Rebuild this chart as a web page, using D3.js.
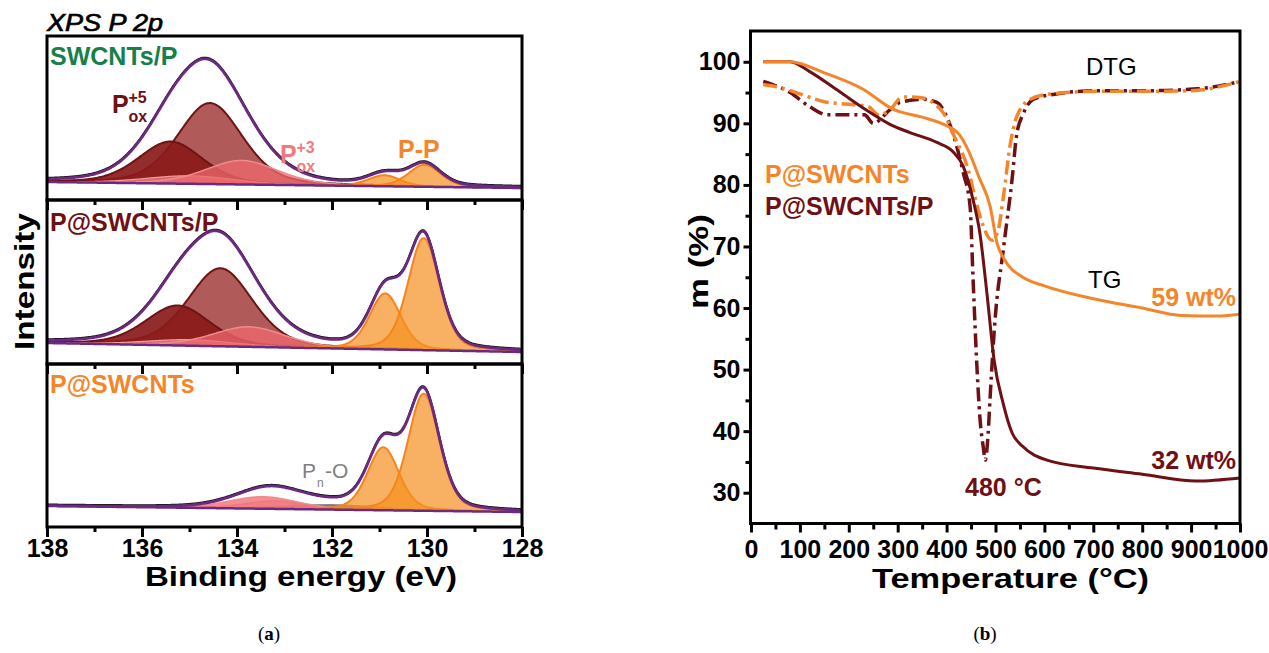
<!DOCTYPE html>
<html><head><meta charset="utf-8">
<script src="https://cdn.jsdelivr.net/npm/d3@7"></script>
<style>
body{margin:0;background:#fff}
svg{display:block}
text{font-family:"Liberation Sans",Arial,sans-serif}
</style>
</head><body>
<svg id="c" width="1269" height="653"></svg>
<script>
// ===================== DATA =====================
// (a) XPS P 2p — panels (top to bottom)
const xpsPanels = ["SWCNTs/P", "P@SWCNTs/P", "P@SWCNTs"];
const xpsPanelColors = ["#17804a", "#6e1014", "#f5852a"];
const xpsTicks = [138, 136, 134, 132, 130, 128];
const xpsMinorTicks = [137, 135, 133, 131, 129];
// background (baseline) intensity at 138 eV and at 128 eV, per panel
const baseLeft = [18, 21, 21];
const baseRight = [12, 12, 15];
// fitted components per panel: [centre (eV), height (a.u.), FWHM (eV)]
const compPox5a = [[134.57, 81, 1.6], [134.35, 78, 1.6], null];
const compPox5b = [[135.40, 42, 1.6], [135.25, 40, 1.6], null];
const compPox3a = [[133.90, 24, 1.8], [133.75, 20, 1.8], [133.45, 12, 1.7]];
const compPox3b = [[135.00, 8, 2.2], [135.00, 6, 2.2], [133.20, 8, 1.5]];
const compPnO   = [null, null, [132.0, 5, 2.4]];
const compPP32  = [[130.05, 22, 0.8], [130.07, 112, 0.78], [130.07, 117, 0.78]];
const compPP12  = [[130.90, 11, 0.8], [130.88, 56, 0.78], [130.92, 63, 0.78]];

// (b) TG / DTG
const tempTicks = [0,100,200,300,400,500,600,700,800,900,1000];
const massTicks = [30,40,50,60,70,80,90,100];
// TG P@SWCNTs (orange)
const tgOrangeT = [25,80,150,230,290,350,400,425,445,466,489,503,519,556,600,700,800,880,950,1000];
const tgOrangeM = [100,100,98.2,95.5,92.3,91.0,89.6,88.3,85.5,81.3,76.5,70.6,67.8,65.0,63.6,61.5,60.0,58.8,58.7,59.0];
// TG P@SWCNTs/P (dark red)
const tgRedT = [25,80,120,180,235,285,325,380,413,434,454,468,483,497,516,534,556,605,700,800,910,1000];
const tgRedM = [100,100,98.4,95.2,92.2,89.8,88.5,86.9,85.4,83.0,77.6,72.2,62.0,51.6,44.4,39.7,37.5,35.3,34.0,33.0,31.9,32.4];
// DTG P@SWCNTs (orange, scaled)
const dtgOrangeT = [25,60,100,150,200,240,262,285,310,345,375,395,415,444,458,474,493,505,516,530,543,571,605,707,809,900,1000];
const dtgOrangeM = [96.3,95.8,94.8,93.5,93.1,92.7,91.3,92.3,94.3,94.2,93.2,91.5,88.0,82.5,78.0,73.5,71.0,72.5,78.0,86.5,91.0,93.9,94.7,95.2,95.2,95.3,96.8];
// DTG P@SWCNTs/P (dark red, scaled)
const dtgRedT = [25,80,120,155,195,232,250,284,305,350,380,400,421,434,448,454,462,468,475,479,485,489,499,516,534,543,557,577,618,707,809,912,1000];
const dtgRedM = [96.8,95.0,92.7,91.4,91.4,91.4,90.0,92.2,93.4,93.9,93.4,91.1,86.2,82.0,76.5,65.0,50.5,42.3,37.4,35.3,39.7,45.5,58.0,69.5,81.0,88.0,91.6,93.9,94.7,95.3,95.3,95.6,96.8];

// ===================== DRAW =====================
const svg = d3.select("#c");
const ORANGE = "#f5852a", DRED = "#6e1014", PURPLE = "#6b2a80";

// ---------- (a) XPS ----------
const xX = d3.scaleLinear().domain([138, 128]).range([47, 522]);
const pTop = [36, 200, 364], pBot = [200, 364, 527];
const beGrid = d3.range(128, 138.0001, 0.02);
function gl(x, p) { const d = x - p[0], u = 4 * d * d / (p[2] * p[2]); return p[1] * (0.7 * Math.exp(-Math.LN2 * u) + 0.3 / (1 + u)); }

xpsPanels.forEach((name, i) => {
  const yS = d3.scaleLinear().domain([0, 160]).range([pBot[i], pBot[i] - 160]);
  const base = be => baseRight[i] + (baseLeft[i] - baseRight[i]) * (be - 128) / 10;
  const g = svg.append("g");
  const comps = [
    {p: compPox5a[i], fill: "#b05a5a", op: 1, stroke: "#6e1414", sw: 2},
    {p: compPox5b[i], fill: "#8a1a1a", op: 0.92, stroke: "#6e1414", sw: 2},
    {p: compPnO[i], fill: "#7f7f7f", op: 1, stroke: "#7f7f7f", sw: 1},
    {p: compPox3b[i], fill: i === 2 ? "#f5a3aa" : "#f28a8c", op: 0.7, stroke: "#f29a9c", sw: 1.2},
    {p: compPox3a[i], fill: "#ef6a6e", op: 0.75, stroke: "#f28a8c", sw: 1.5},
    {p: compPP12[i], fill: "#f5901f", op: 0.7, stroke: "#f5841f", sw: 2},
    {p: compPP32[i], fill: "#f5901f", op: 0.7, stroke: "#f5841f", sw: 2}
  ].filter(c => c.p);
  comps.forEach(c => {
    const pts = beGrid.filter(b => Math.abs(b - c.p[0]) < 2.6 * c.p[2]);
    g.append("path").datum(pts)
      .attr("d", d3.area().x(b => xX(b)).y0(b => yS(base(b))).y1(b => yS(base(b) + gl(b, c.p))))
      .attr("fill", c.fill).attr("fill-opacity", c.op);
    g.append("path").datum(pts)
      .attr("d", d3.line().x(b => xX(b)).y(b => yS(base(b) + gl(b, c.p))))
      .attr("fill", "none").attr("stroke", c.stroke).attr("stroke-width", c.sw);
  });
  // background line
  g.append("path").datum(beGrid)
    .attr("d", d3.line().x(b => xX(b)).y(b => yS(base(b))))
    .attr("fill", "none").attr("stroke", PURPLE).attr("stroke-width", 2.5);
  const env = b => base(b) + comps.reduce((s, c) => s + gl(b, c.p), 0);
  // measured data (black) and envelope (purple)
  g.append("path").datum(beGrid)
    .attr("d", d3.line().x(b => xX(b)).y(b => yS(env(b)) - 1))
    .attr("fill", "none").attr("stroke", "#111").attr("stroke-width", 2.2);
  g.append("path").datum(beGrid)
    .attr("d", d3.line().x(b => xX(b)).y(b => yS(env(b))))
    .attr("fill", "none").attr("stroke", PURPLE).attr("stroke-width", 2.8);

  // axis ticks (outward, bottom)
  const ax = svg.append("g").attr("transform", `translate(0,${pBot[i]})`);
  ax.call(d3.axisBottom(xX).tickValues(xpsTicks).tickSize(10).tickPadding(2)
      .tickFormat(i === 2 ? d3.format("d") : () => ""));
  ax.call(g2 => g2.select(".domain").remove());
  ax.selectAll("line").attr("stroke", "#000").attr("stroke-width", 3);
  ax.selectAll("text").attr("font-size", 25).attr("font-weight", "bold").attr("fill", "#000");
  const axm = svg.append("g").attr("transform", `translate(0,${pBot[i]})`);
  axm.call(d3.axisBottom(xX).tickValues(xpsMinorTicks).tickSize(5).tickFormat(() => ""));
  axm.select(".domain").remove();
  axm.selectAll("line").attr("stroke", "#000").attr("stroke-width", 3);

  // frame
  svg.append("rect").attr("x", 47).attr("y", pTop[i]).attr("width", 475).attr("height", pBot[i] - pTop[i])
    .attr("fill", "none").attr("stroke", "#000").attr("stroke-width", 3);
  // panel label
  svg.append("text").attr("x", 50).attr("y", [65, 231, 393][i]).text(name)
    .attr("font-size", 25).attr("font-weight", "bold").attr("fill", xpsPanelColors[i]);
});

// peak labels
function subsup(x, y, main, sub, sup, color, fs, small) {
  svg.append("text").attr("x", x).attr("y", y).attr("fill", color)
    .attr("font-weight", "bold").attr("font-size", fs).text(main);
  svg.append("text").attr("x", x + fs * 0.66).attr("y", y - 10).attr("fill", color)
    .attr("font-weight", "bold").attr("font-size", small).text(sup);
  svg.append("text").attr("x", x + fs * 0.66).attr("y", y + 9).attr("fill", color)
    .attr("font-weight", "bold").attr("font-size", small).text(sub);
}
subsup(112, 113, "P", "ox", "+5", "#6e1014", 25, 16);
subsup(280, 163, "P", "ox", "+3", "#f27a7e", 25, 16);
svg.append("text").attr("x", 398).attr("y", 158).text("P-P").attr("font-size", 25)
  .attr("font-weight", "bold").attr("fill", ORANGE);
// Pn-O
svg.append("text").attr("x", 302).attr("y", 478).text("P").attr("font-size", 21).attr("fill", "#7f7f7f");
svg.append("text").attr("x", 317).attr("y", 487).text("n").attr("font-size", 12).attr("fill", "#7f7f7f");
svg.append("text").attr("x", 325).attr("y", 478).text("-O").attr("font-size", 21).attr("fill", "#7f7f7f");

// titles (a)
svg.append("text").attr("x", 47).attr("y", 31).text("XPS P 2p").attr("font-size", 24)
  .attr("font-style", "italic").attr("stroke", "#000").attr("stroke-width", 0.7)
  .attr("textLength", 116).attr("lengthAdjust", "spacingAndGlyphs");
svg.append("text").attr("x", 145).attr("y", 586).text("Binding energy (eV)")
  .attr("font-size", 28).attr("font-weight", "bold").attr("textLength", 312).attr("lengthAdjust", "spacingAndGlyphs");
svg.append("text").attr("transform", "translate(34,350) rotate(-90)").text("Intensity")
  .attr("font-size", 28).attr("font-weight", "bold").attr("textLength", 137).attr("lengthAdjust", "spacingAndGlyphs");

// ---------- (b) TG ----------
const xT = d3.scaleLinear().domain([0, 1000]).range([751, 1240]);
const yM = d3.scaleLinear().domain([25, 105]).range([523.5, 31]);
const line = d3.line().curve(d3.curveMonotoneX);
function series(T, M) { return T.map((t, k) => [xT(t), yM(M[k])]); }

svg.append("path").attr("d", line(series(dtgRedT, dtgRedM))).attr("fill", "none")
  .attr("stroke", DRED).attr("stroke-width", 3.5).attr("stroke-dasharray", "14,5,3,5");
svg.append("path").attr("d", line(series(dtgOrangeT, dtgOrangeM))).attr("fill", "none")
  .attr("stroke", ORANGE).attr("stroke-width", 3.5).attr("stroke-dasharray", "14,5,3,5");
svg.append("path").attr("d", line(series(tgRedT, tgRedM))).attr("fill", "none")
  .attr("stroke", DRED).attr("stroke-width", 3);
svg.append("path").attr("d", line(series(tgOrangeT, tgOrangeM))).attr("fill", "none")
  .attr("stroke", ORANGE).attr("stroke-width", 3);

// axes
const bx = svg.append("g").attr("transform", "translate(0,523.5)")
  .call(d3.axisBottom(xT).tickValues(tempTicks).tickSize(9).tickPadding(8).tickFormat(d3.format("d")));
const bxm = svg.append("g").attr("transform", "translate(0,523.5)")
  .call(d3.axisBottom(xT).tickValues(d3.range(50, 1000, 100)).tickSize(6).tickFormat(() => ""));
const by = svg.append("g").attr("transform", "translate(750.5,0)")
  .call(d3.axisLeft(yM).tickValues(massTicks).tickSize(7).tickPadding(3).tickFormat(d3.format("d")));
const bym = svg.append("g").attr("transform", "translate(750.5,0)")
  .call(d3.axisLeft(yM).tickValues(d3.range(35, 100, 10)).tickSize(5).tickFormat(() => ""));
[bx, bxm, by, bym].forEach(a => {
  a.select(".domain").remove();
  a.selectAll("line").attr("stroke", "#000").attr("stroke-width", 3);
  a.selectAll("text").attr("font-size", 25).attr("font-weight", "bold").attr("fill", "#000");
});
svg.append("rect").attr("x", 750.5).attr("y", 31).attr("width", 489.5).attr("height", 492.5)
  .attr("fill", "none").attr("stroke", "#000").attr("stroke-width", 3);

// labels (b)
svg.append("text").attr("x", 1086).attr("y", 75).text("DTG").attr("font-size", 24);
svg.append("text").attr("x", 1088).attr("y", 288).text("TG").attr("font-size", 24);
svg.append("text").attr("x", 1236).attr("y", 306).attr("text-anchor", "end").text("59 wt%")
  .attr("font-size", 25).attr("font-weight", "bold").attr("fill", ORANGE);
svg.append("text").attr("x", 1236).attr("y", 469).attr("text-anchor", "end").text("32 wt%")
  .attr("font-size", 25).attr("font-weight", "bold").attr("fill", DRED);
svg.append("text").attr("x", 965).attr("y", 496).text("480 °C")
  .attr("font-size", 25).attr("font-weight", "bold").attr("fill", DRED);
svg.append("text").attr("x", 765).attr("y", 183).text("P@SWCNTs")
  .attr("font-size", 25).attr("font-weight", "bold").attr("fill", ORANGE);
svg.append("text").attr("x", 765).attr("y", 215).text("P@SWCNTs/P")
  .attr("font-size", 25).attr("font-weight", "bold").attr("fill", DRED);
svg.append("text").attr("x", 872).attr("y", 588).text("Temperature (°C)")
  .attr("font-size", 28).attr("font-weight", "bold").attr("textLength", 277).attr("lengthAdjust", "spacingAndGlyphs");
svg.append("text").attr("transform", "translate(708,309) rotate(-90)").text("m (%)")
  .attr("font-size", 28).attr("font-weight", "bold").attr("textLength", 95).attr("lengthAdjust", "spacingAndGlyphs");

// captions
[["a", 269], ["b", 985]].forEach(([l, x]) => {
  const t = svg.append("text").attr("x", x).attr("y", 640).attr("text-anchor", "middle")
    .style("font-family", "'Liberation Serif','Times New Roman',serif").style("font-size", "19px");
  t.append("tspan").text("(");
  t.append("tspan").attr("font-weight", "bold").text(l);
  t.append("tspan").text(")");
});
</script>
</body></html>
